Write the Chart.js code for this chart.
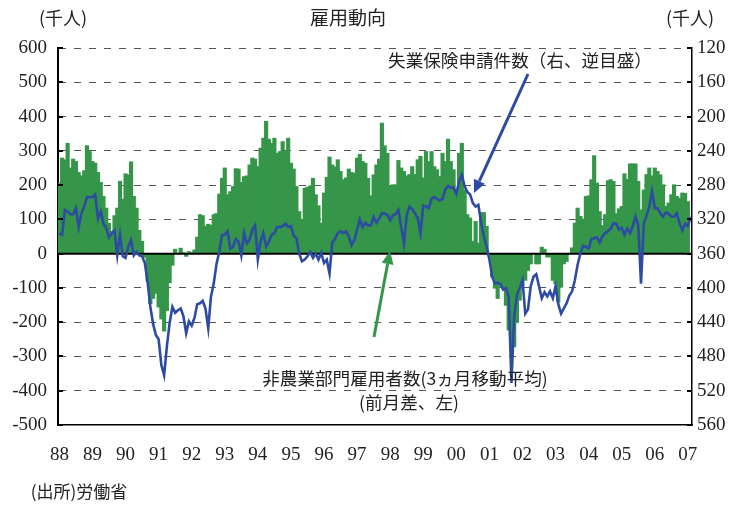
<!DOCTYPE html>
<html>
<head>
<meta charset="utf-8">
<script src="https://cdn.jsdelivr.net/npm/chart.js@4.4.1/dist/chart.umd.min.js"></script>
<style>
  html, body { margin: 0; padding: 0; background: #fff; }
</style>
</head>
<body>
<canvas id="chart" width="733" height="517"></canvas>
<script>
// year tick labels (one category per month, Jan 1988 - Feb 2007)
const years = ['88', '89', '90', '91', '92', '93', '94', '95', '96', '97',
  '98', '99', '00', '01', '02', '03', '04', '05', '06', '07'];
const monthCount = 230;

// nonfarm payrolls, 3-month moving average, change from previous month (thousands, left axis)
const payrollChange = [
  205, 278, 273, 321, 249, 275, 268, 236, 226, 241, 314, 297, 268, 263, 236, 207, 166, 132, 88, 64, 110, 132, 210, 158, 232, 229, 267, 166, 132, 67, 35, -10, -80,
  -145, -130, -115, -155, -190, -225, -165, -84, -33, 12, 0, 15, 2, -7, 5, 2, 10, 47, 113, 110, 79, 85, 82, 113, 116, 173, 219, 249, 171, 180, 195, 247,
  246, 207, 224, 226, 258, 278, 275, 253, 307, 336, 385, 333, 321, 336, 292, 297, 326, 297, 336, 263, 246, 195, 122, 98, 190, 193, 197, 219, 171, 139, 88, 176,
  222, 281, 258, 252, 273, 239, 215, 220, 246, 236, 234, 278, 289, 268, 263, 219, 168, 229, 258, 275, 380, 314, 292, 197, 200, 200, 271, 249, 239, 226, 230, 253, 230,
  273, 283, 220, 297, 268, 297, 253, 244, 224, 292, 268, 333, 268, 244, 176, 292, 321, 185, 113, 103, 35, 93, 30, 119, 119, 79, -4, -67, -100, -130, -90, -100, -150,
  -222, -265, -271, -200, -135, -92, -77, -48, -29, 0, -29, -29, 18, 12, -9, -9, -77, -87, -140, -97, -29, -22, 0, 16, 88, 132, 108, 100, 166, 168, 215, 285, 205,
  122, 81, 113, 212, 215, 210, 116, 130, 137, 232, 216, 261, 261, 261, 210, 127, 185, 230, 249, 226, 249, 239, 229, 200, 137, 147, 171, 200, 166, 161, 176, 175, 151,
  null
];

// initial jobless claims (thousands, right axis, inverted)
const jobClaims = [
  336, 338, 309, 311, 314, 314, 307, 329, 313, 305, 294, 294, 294, 291, 319, 311, 325, 330, 341, 336, 333, 362, 338, 363, 365, 352, 344, 362, 358, 362, 363, 371, 393,
  422, 442, 455, 460, 490, 502, 468, 441, 422, 429, 426, 424, 433, 453, 439, 444, 435, 419, 418, 415, 424, 447, 410, 395, 372, 358, 338, 338, 334, 354, 352, 343,
  346, 362, 336, 348, 344, 332, 327, 367, 346, 336, 352, 346, 338, 336, 329, 329, 328, 325, 329, 328, 339, 342, 360, 369, 367, 363, 358, 365, 360, 367, 359, 371,
  367, 383, 347, 343, 336, 334, 336, 334, 340, 350, 344, 332, 320, 329, 324, 327, 327, 317, 324, 319, 313, 313, 315, 321, 315, 314, 309, 329, 348, 315, 305, 308, 313,
  319, 336, 304, 305, 307, 296, 294, 296, 298, 296, 285, 281, 283, 283, 290, 276, 268, 281, 288, 291, 301, 305, 303, 324, 340, 352, 367, 387, 395, 394, 396, 402, 400,
  410, 511, 433, 408, 400, 391, 430, 425, 398, 387, 384, 398, 412, 405, 410, 404, 412, 398, 419, 430, 424, 418, 409, 404, 391, 373, 360, 351, 352, 354, 343, 342, 341,
  347, 340, 336, 334, 331, 325, 325, 332, 330, 338, 331, 336, 328, 317, 327, 395, 325, 316, 305, 287, 307, 307, 313, 317, 312, 313, 317, 317, 313, 325, 333, 325, 328, 317
];

const monthLabels = [];
for (let i = 0; i < monthCount; i++) {
  monthLabels.push(i % 12 === 0 ? years[i / 12] : '');
}

const GREEN = '#35964a';
const BLUE = '#2d4ba2';
const numFont = '"Liberation Serif", "DejaVu Serif", serif';
const jpFont = '"Noto Sans CJK JP", "Noto Sans", sans-serif';

function arrow(ctx, x1, y1, x2, y2, color) {
  const a = Math.atan2(y2 - y1, x2 - x1);
  const len = 13, half = 6;
  const bx = x2 - len * Math.cos(a), by = y2 - len * Math.sin(a);
  ctx.save();
  ctx.strokeStyle = color;
  ctx.fillStyle = color;
  ctx.lineWidth = 3;
  ctx.beginPath();
  ctx.moveTo(x1, y1);
  ctx.lineTo(bx, by);
  ctx.stroke();
  ctx.beginPath();
  ctx.moveTo(x2, y2);
  ctx.lineTo(bx + half * Math.sin(a), by - half * Math.cos(a));
  ctx.lineTo(bx - half * Math.sin(a), by + half * Math.cos(a));
  ctx.closePath();
  ctx.fill();
  ctx.restore();
}

const decor = {
  id: 'decor',
  afterDatasetDraw(chart, args) {
    if (args.index !== 0) return;
    // zero line on top of the bars, under the claims line
    const {ctx, chartArea} = chart;
    const y0 = chart.scales.y.getPixelForValue(0);
    ctx.save();
    ctx.strokeStyle = '#000';
    ctx.lineWidth = 2;
    ctx.beginPath();
    ctx.moveTo(chartArea.left, y0);
    ctx.lineTo(chartArea.right, y0);
    ctx.stroke();
    ctx.restore();
  },
  afterDraw(chart) {
    const {ctx, chartArea} = chart;
    const yl = chart.scales.y, yr = chart.scales.y2;
    ctx.save();
    // inner tick marks
    ctx.strokeStyle = '#000';
    ctx.lineWidth = 2;
    yl.ticks.forEach(t => {
      const y = Math.round(yl.getPixelForValue(t.value));
      ctx.beginPath(); ctx.moveTo(chartArea.left, y); ctx.lineTo(chartArea.left + 5, y); ctx.stroke();
    });
    yr.ticks.forEach(t => {
      const y = Math.round(yr.getPixelForValue(t.value));
      ctx.beginPath(); ctx.moveTo(chartArea.right - 5, y); ctx.lineTo(chartArea.right, y); ctx.stroke();
    });

    ctx.fillStyle = '#222';
    ctx.textBaseline = 'middle';
    ctx.textAlign = 'center';
    ctx.font = '18px ' + jpFont;
    ctx.fillText('(千人)', 63, 18);
    ctx.fillText('(千人)', 690, 18);
    ctx.font = '19px ' + jpFont;
    ctx.fillText('雇用動向', 348, 18);
    ctx.font = '17.6px ' + jpFont;
    ctx.fillText('失業保険申請件数（右、逆目盛）', 520, 60);
    ctx.fillText('非農業部門雇用者数(3ヵ月移動平均)', 405, 378);
    ctx.fillText('(前月差、左)', 409, 402);
    ctx.font = '17px ' + jpFont;
    ctx.fillText('(出所)労働省', 79, 492);
    ctx.restore();

    arrow(ctx, 528, 74, 474, 193, BLUE);
    arrow(ctx, 374, 337, 390, 251, GREEN);
  }
};

new Chart(document.getElementById('chart'), {
  type: 'bar',
  data: {
    labels: monthLabels,
    datasets: [
      {
        type: 'bar',
        label: '非農業部門雇用者数',
        data: payrollChange,
        yAxisID: 'y',
        backgroundColor: GREEN,
        borderWidth: 0,
        barPercentage: 1,
        categoryPercentage: 1,
        inflateAmount: 0.7,
        order: 2
      },
      {
        type: 'line',
        label: '失業保険申請件数',
        data: jobClaims,
        yAxisID: 'y2',
        borderColor: BLUE,
        borderWidth: 2.6,
        pointRadius: 0,
        tension: 0,
        fill: false,
        order: 1
      }
    ]
  },
  options: {
    responsive: false,
    animation: false,
    layout: { padding: { top: 48, left: 0, right: 0, bottom: 0 } },
    plugins: {
      legend: { display: false },
      tooltip: { enabled: false }
    },
    scales: {
      x: {
        grid: { display: false },
        border: { display: true, color: '#000', width: 1.5 },
        ticks: {
          autoSkip: false,
          maxRotation: 0,
          padding: 11,
          color: '#222',
          font: { family: numFont, size: 19 },
          callback: (v, i) => monthLabels[i]
        },
        afterFit: s => { s.height = 92; }
      },
      y: {
        position: 'left',
        min: -500,
        max: 600,
        ticks: {
          stepSize: 100,
          padding: 11,
          color: '#222',
          font: { family: numFont, size: 19 }
        },
        grid: {
          drawTicks: false,
          color: c => (c.tick && (c.tick.value === 0 || c.tick.value === -500)) ? 'rgba(0,0,0,0)' : '#555',
          lineWidth: 1
        },
        border: { display: true, color: '#000', width: 2, dash: [7, 8] },
        afterFit: s => { s.width = 58; }
      },
      y2: {
        position: 'right',
        reverse: true,
        min: 120,
        max: 560,
        ticks: {
          stepSize: 40,
          padding: 5,
          color: '#222',
          font: { family: numFont, size: 19 }
        },
        grid: { drawOnChartArea: false, drawTicks: false },
        border: { display: true, color: '#000', width: 1.5 },
        afterFit: s => { s.width = 41; }
      }
    }
  },
  plugins: [decor]
});
</script>
</body>
</html>
